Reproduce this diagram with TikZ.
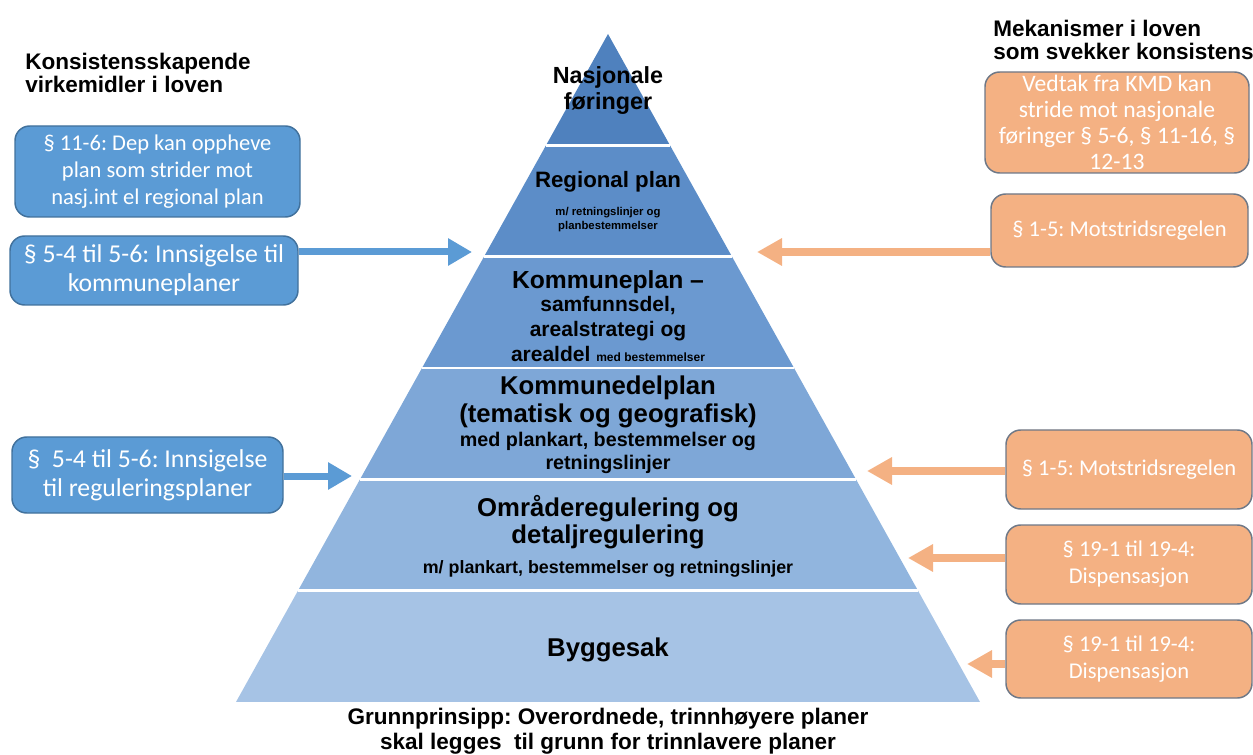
\documentclass[tikz,border=0pt]{standalone}
\usepackage{fontspec}
\setmainfont{Liberation Sans}
\newfontfamily\boxfont{Carlito}
\usetikzlibrary{arrows.meta}
\frenchspacing

\definecolor{bandA}{RGB}{79,129,190}
\definecolor{bandB}{RGB}{92,141,200}
\definecolor{bandC}{RGB}{107,153,208}
\definecolor{bandD}{RGB}{126,167,215}
\definecolor{bandE}{RGB}{145,181,222}
\definecolor{bandF}{RGB}{166,195,229}
\definecolor{boxblue}{RGB}{91,155,213}
\definecolor{boxblueline}{RGB}{65,113,156}
\definecolor{boxorange}{RGB}{244,177,131}
\definecolor{boxorangeline}{RGB}{110,120,135}

\tikzset{
  bluebox/.style={draw=boxblueline, line width=1.1pt, fill=boxblue, rounded corners=11pt,
    text=white, align=center, inner sep=0pt},
  orangebox/.style={draw=boxorangeline, line width=1.1pt, fill=boxorange, rounded corners=11pt,
    text=white, align=center, inner sep=0pt},
  pyrtext/.style={align=center, inner sep=0pt, text=black},
  bluearrow/.style={draw=boxblue, line width=5.25pt, -{Triangle[length=18pt,width=19.5pt]}},
  orangearrow/.style={draw=boxorange, line width=6pt, -{Triangle[length=18.75pt,width=19.5pt]}}
}

\begin{document}
\begin{tikzpicture}[x=0.75pt,y=0.75pt,yscale=-1,xscale=1]
\useasboundingbox (0,0) rectangle (1253,755);

%Shape: Pyramid bands
\foreach \i/\c in {0/bandA,1/bandB,2/bandC,3/bandD,4/bandE,5/bandF}
  \fill[\c] ({608-62*\i},{34+111.33*\i}) -- ({608+62*\i},{34+111.33*\i}) -- ({608+62*(\i+1)},{34+111.33*(\i+1)}) -- ({608-62*(\i+1)},{34+111.33*(\i+1)}) -- cycle;
%Straight Lines: band separators
\foreach \i in {1,...,5}
  \draw[white, line width=2pt] ({608-62*\i},{34+111.33*\i}) -- ({608+62*\i},{34+111.33*\i});

% Text Node
\draw (608,91) node (nasjonale) [pyrtext, font=\fontsize{17.5}{19.5}\selectfont\bfseries] {Nasjonale\\føringer};
% Text Node
\draw (608,188) node (regional) [pyrtext, anchor=base, font=\fontsize{16.7}{20}\selectfont\bfseries] {Regional plan};
% Text Node
\draw (608,220) node (regionalsub) [pyrtext, font=\fontsize{8.5}{10.5}\selectfont\bfseries] {m/ retningslinjer og\\planbestemmelser};
% Text Node
\draw (608,316) node (kommuneplan) [pyrtext, font=\fontsize{15.75}{18.75}\selectfont\bfseries] {{\fontsize{18.5}{18.75}\selectfont Kommuneplan –}\\[-2pt]samfunnsdel,\\arealstrategi og\\arealdel {\fontsize{9}{10}\selectfont med bestemmelser}};
% Text Node
\draw (608,425) node (kdp) [pyrtext, font=\fontsize{14.8}{17}\selectfont\bfseries] {{\fontsize{19.3}{21}\selectfont Kommunedelplan}\\[2pt]{\fontsize{19.3}{21}\selectfont (tematisk og geografisk)}\\[1pt]med plankart, bestemmelser og\\retningslinjer};
% Text Node
\draw (608,522.5) node (omraade) [pyrtext, font=\fontsize{19.3}{20.25}\selectfont\bfseries] {Områderegulering og\\detaljregulering};
% Text Node
\draw (608,573) node (omraadesub) [pyrtext, anchor=base, font=\fontsize{13.4}{16}\selectfont\bfseries] {m/ plankart, bestemmelser og retningslinjer};
% Text Node
\draw (608,656) node (byggesak) [pyrtext, anchor=base, font=\fontsize{19.3}{21}\selectfont\bfseries] {Byggesak};
% Text Node
\draw (608,731) node (grunnprinsipp) [pyrtext, font=\fontsize{16.9}{18.5}\selectfont\bfseries] {Grunnprinsipp: Overordnede, trinnhøyere planer\\skal legges\ \ til grunn for trinnlavere planer};

% Text Node
\draw (25,73) node (leftHead) [pyrtext, anchor=west, align=left, font=\fontsize{16.9}{17.5}\selectfont\bfseries] {Konsistensskapende\\virkemidler i loven};
% Text Node
\draw (993,40) node (rightHead) [pyrtext, anchor=west, align=left, font=\fontsize{16.9}{17}\selectfont\bfseries] {Mekanismer i loven\\som svekker konsistens};

%Shape: Rounded Rect
\draw (157.5,171.5) node (depBox) [bluebox, minimum width=213.75pt, minimum height=68.25pt, font=\boxfont\fontsize{16.9}{20.25}\selectfont] {§ 11-6: Dep kan oppheve\\plan som strider mot\\nasj.int el regional plan};
%Shape: Rounded Rect
\draw (154,270.5) node (innsKp) [bluebox, minimum width=216pt, minimum height=51.75pt, font=\boxfont\fontsize{19.3}{21.75}\selectfont] {§ 5-4 til 5-6: Innsigelse til\\kommuneplaner};
%Shape: Rounded Rect
\draw (147.5,475) node (innsReg) [bluebox, minimum width=203.25pt, minimum height=57pt, font=\boxfont\fontsize{19.3}{21.75}\selectfont] {§\ \ 5-4 til 5-6: Innsigelse\\til reguleringsplaner};

%Shape: Rounded Rect
\draw (1117,122.5) node (kmdBox) [orangebox, minimum width=198pt, minimum height=75.75pt, font=\boxfont\fontsize{17.7}{19.5}\selectfont] {Vedtak fra KMD kan\\stride mot nasjonale\\føringer § 5-6, § 11-16, §\\12-13};
%Shape: Rounded Rect
\draw (1119.5,230.5) node (motstridA) [orangebox, minimum width=192.75pt, minimum height=54.75pt, font=\boxfont\fontsize{16.9}{20.25}\selectfont] {§ 1-5: Motstridsregelen};
%Shape: Rounded Rect
\draw (1129,469.5) node (motstridB) [orangebox, minimum width=184.5pt, minimum height=59.25pt, font=\boxfont\fontsize{16.9}{20.25}\selectfont] {§ 1-5: Motstridsregelen};
%Shape: Rounded Rect
\draw (1129,564.5) node (dispA) [orangebox, minimum width=184.5pt, minimum height=59.25pt, font=\boxfont\fontsize{16.9}{20.25}\selectfont] {§ 19-1 til 19-4:\\Dispensasjon};
%Shape: Rounded Rect
\draw (1129,659) node (dispB) [orangebox, minimum width=184.5pt, minimum height=58.5pt, font=\boxfont\fontsize{16.9}{20.25}\selectfont] {§ 19-1 til 19-4:\\Dispensasjon};

% Arrow tips
\coordinate (tipKp) at (472,252);
\coordinate (tipReg) at (352,476);
\coordinate (tipMotA) at (757,252);
\coordinate (tipMotB) at (867,471);
\coordinate (tipDispA) at (908,558);
\coordinate (tipDispB) at (967,664);

%Straight Lines
\draw [bluearrow] (tipKp -| innsKp.east) -- (tipKp);
\draw [bluearrow] (tipReg -| innsReg.east) -- (tipReg);
\draw [orangearrow] (tipMotA -| motstridA.west) -- (tipMotA);
\draw [orangearrow] (tipMotB -| motstridB.west) -- (tipMotB);
\draw [orangearrow] (tipDispA -| dispA.west) -- (tipDispA);
\draw [orangearrow] (tipDispB -| dispB.west) -- (tipDispB);
\end{tikzpicture}
\end{document}
